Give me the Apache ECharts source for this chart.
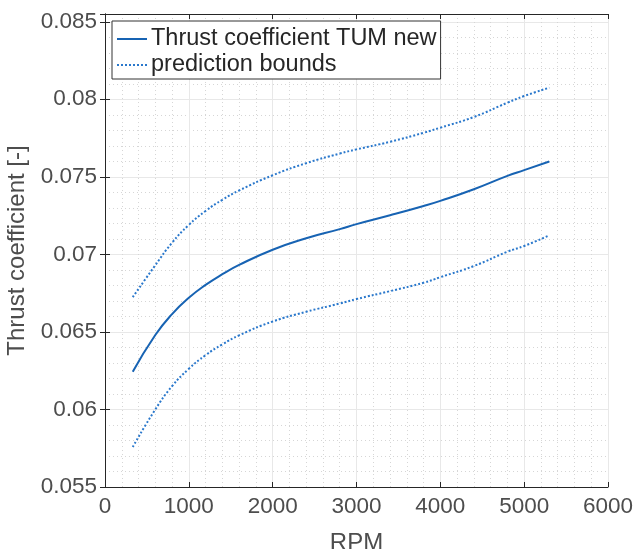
<!DOCTYPE html>
<html><head><meta charset="utf-8">
<script src="https://cdn.jsdelivr.net/npm/echarts@6/dist/echarts.min.js"></script>
<style>html,body{margin:0;padding:0;background:#fff}#c{width:638px;height:549px}</style>
</head><body><div id="c"></div>
<script>
const rpm = [331, 600, 800, 1000, 1200, 1400, 1600, 2000, 2400, 2800, 3000, 3400, 3800, 4000, 4400, 4800, 5000, 5300];
const thrust = [0.06243, 0.06480, 0.06615, 0.06720, 0.06803, 0.06872, 0.06932, 0.07030, 0.07104, 0.07163, 0.07195, 0.07252, 0.07312, 0.07345, 0.07420, 0.07506, 0.07543, 0.07599];
const upper = [0.06724, 0.06930, 0.07075, 0.07190, 0.07280, 0.07352, 0.07412, 0.07510, 0.07588, 0.07650, 0.07677, 0.07726, 0.07784, 0.07817, 0.07886, 0.07978, 0.08021, 0.08075];
const lower = [0.05758, 0.06000, 0.06150, 0.06262, 0.06350, 0.06420, 0.06478, 0.06567, 0.06630, 0.06683, 0.06712, 0.06763, 0.06817, 0.06853, 0.06925, 0.07017, 0.07054, 0.07123];
const xTicks = [0, 1000, 2000, 3000, 4000, 5000, 6000];
const yTicks = [0.055, 0.06, 0.065, 0.07, 0.075, 0.08, 0.085];

const font = 'Liberation Sans, Arial, sans-serif';
const pair = (xs, ys) => xs.map((x, i) => [x, ys[i]]);
const chart = echarts.init(document.getElementById('c'), null, {renderer: 'canvas'});
const axisLine = {show: true, lineStyle: {color: '#262626', width: 1}};
const tick = {show: true, inside: true, length: 5, lineStyle: {color: '#262626'}};
const minorTick = {show: false, splitNumber: 5};
const yLab = v => yTicks.some(t => Math.abs(t - v) < 1e-9) ? String(Math.round(v * 1000) / 1000) : '';
const xLab = v => xTicks.indexOf(v) >= 0 ? String(v) : '';
chart.setOption({
  animation: false,
  backgroundColor: '#fff',
  textStyle: {fontFamily: font},
  grid: {left: 105, right: 30, top: 14, bottom: 62, containLabel: false, outerBoundsMode: 'none'},
  legend: {
    left: 112, top: 21, orient: 'vertical',
    backgroundColor: '#fff', borderColor: '#333', borderWidth: 1,
    padding: [6, 4, 2, 4], itemGap: 2, itemWidth: 30, itemHeight: 26,
    itemStyle: {color: 'rgba(0,0,0,0)', borderColor: 'rgba(0,0,0,0)', borderWidth: 0},
    textStyle: {fontSize: 23.5, color: '#262626', fontFamily: font, padding: [0, 0, 0, -1]},
    data: ['Thrust coefficient TUM new', 'prediction bounds']
  },
  xAxis: [{
    type: 'value', min: 0, max: 6000, interval: 1000,
    name: 'RPM', nameLocation: 'middle', nameGap: 44,
    nameTextStyle: {fontSize: 24, color: '#4d4d4d', fontFamily: font},
    axisLine: axisLine, axisTick: tick,
    axisLabel: {fontSize: 22.5, color: '#4d4d4d', margin: 8, fontFamily: font, formatter: xLab},
    splitLine: {show: true, lineStyle: {color: '#e8e8e8', width: 1}},
    minorTick: minorTick,
    minorSplitLine: {show: true, lineStyle: {color: '#d6d6d6', type: [1, 3], width: 1}}
  }, {
    type: 'value', min: 0, max: 6000, interval: 1000, position: 'top',
    axisLine: axisLine, axisTick: tick, axisLabel: {show: false}, splitLine: {show: false}
  }],
  yAxis: [{
    type: 'value', min: 0.055, max: 0.0855, interval: 0.005,
    name: 'Thrust coefficient [-]', nameLocation: 'middle', nameGap: 67,
    nameTextStyle: {fontSize: 24, color: '#4d4d4d', fontFamily: font},
    axisLine: axisLine, axisTick: tick,
    axisLabel: {fontSize: 22.5, color: '#4d4d4d', margin: 8, fontFamily: font, formatter: yLab, showMaxLabel: false},
    splitLine: {show: true, lineStyle: {color: '#e8e8e8', width: 1}},
    minorTick: minorTick,
    minorSplitLine: {show: true, lineStyle: {color: '#d6d6d6', type: [1, 3], width: 1}}
  }, {
    type: 'value', min: 0.055, max: 0.0855, interval: 0.005, position: 'right',
    axisLine: axisLine, axisTick: tick, axisLabel: {show: false}, splitLine: {show: false}
  }],
  series: [{
    name: 'Thrust coefficient TUM new', type: 'line', data: pair(rpm, thrust),
    smooth: 0.5, symbol: 'none', lineStyle: {color: '#1763b3', width: 2},
    itemStyle: {color: '#1763b3'}
  }, {
    name: 'prediction bounds', type: 'line', data: pair(rpm, upper),
    smooth: 0.5, symbol: 'none', lineStyle: {color: '#2a78cc', width: 2, type: [2, 2]},
    itemStyle: {color: '#2a78cc'}
  }, {
    name: 'prediction bounds', type: 'line', data: pair(rpm, lower),
    smooth: 0.5, symbol: 'none', lineStyle: {color: '#2a78cc', width: 2, type: [2, 2]},
    itemStyle: {color: '#2a78cc'}
  }]
});
</script></body></html>
